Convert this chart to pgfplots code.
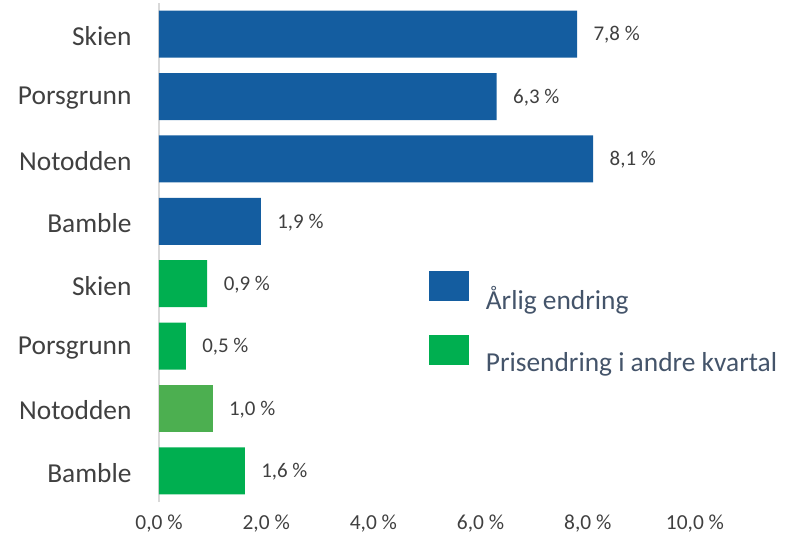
\documentclass[border=0pt]{standalone}
\usepackage{pgfplots}
\pgfplotsset{compat=1.18}
\usepackage{fontspec}
\setmainfont{Carlito}
\definecolor{barblue}{HTML}{145DA0}
\definecolor{bargreen}{HTML}{00AF50}
\definecolor{lightgreen}{HTML}{4CAF50}
\definecolor{labelgray}{HTML}{404040}
\definecolor{legendtxt}{HTML}{44546A}
\begin{document}
\begin{tikzpicture}
\begin{axis}[
  name=ax,
  xbar, bar width=47bp, bar shift=0pt,
  scale only axis, width=536bp, height=499bp,
  xmin=0, xmax=10, ymin=-0.5, ymax=7.5,
  axis lines*=left,
  x axis line style={draw=none},
  y axis line style={draw=black!15, line width=1.5bp},
  major tick length=0pt,
  xtick={0,2,...,10},
  ytick={0,...,7},
  yticklabels={Bamble,Notodden,Porsgrunn,Skien,Bamble,Notodden,Porsgrunn,Skien},
  yticklabel style={font=\fontsize{27.5}{30}\selectfont, text=labelgray, xshift=-24bp, yshift=-2bp},
  xticklabel={\pgfmathprintnumber[fixed,fixed zerofill,precision=1,use comma]{\tick}~\%},
  xticklabel style={font=\fontsize{21.5}{24}\selectfont, text=labelgray, yshift=-9bp},
  /pgf/number format/assume math mode=true,
  nodes near coords={\pgfmathprintnumber[fixed,fixed zerofill,precision=1,use comma,assume math mode=true]{\pgfplotspointmeta}~\%},
  nodes near coords style={font=\fontsize{21}{24}\selectfont, text=labelgray, anchor=west, xshift=13bp, yshift=-1bp},
  point meta=explicit,
  clip=false,
  legend cell align=left,
  legend image code/.code={\fill (0bp,-2bp) rectangle (40bp,28bp);},
  legend style={at={(0.4975,0.468)}, anchor=north west, draw=none, fill=none,
    font=\fontsize{27.5}{30}\selectfont, text=legendtxt, row sep=22bp,
    /tikz/every odd column/.append style={column sep=15bp}},
]
\addplot[fill=barblue, draw=none] coordinates {(7.8,7) [7.8] (6.3,6) [6.3] (8.1,5) [8.1] (1.9,4) [1.9]};
\addlegendentry{Årlig endring}
\addplot[fill=bargreen, draw=none] coordinates {(0.9,3) [0.9] (0.5,2) [0.5] (1.6,0) [1.6]};
\addlegendentry{Prisendring i andre kvartal}
\addplot[fill=lightgreen, draw=none, forget plot] coordinates {(1.0,1) [1.0]};
\end{axis}
\path ([xshift=-159bp,yshift=-39bp]ax.south west) rectangle ([xshift=110bp,yshift=3bp]ax.north east);
\end{tikzpicture}
\end{document}
